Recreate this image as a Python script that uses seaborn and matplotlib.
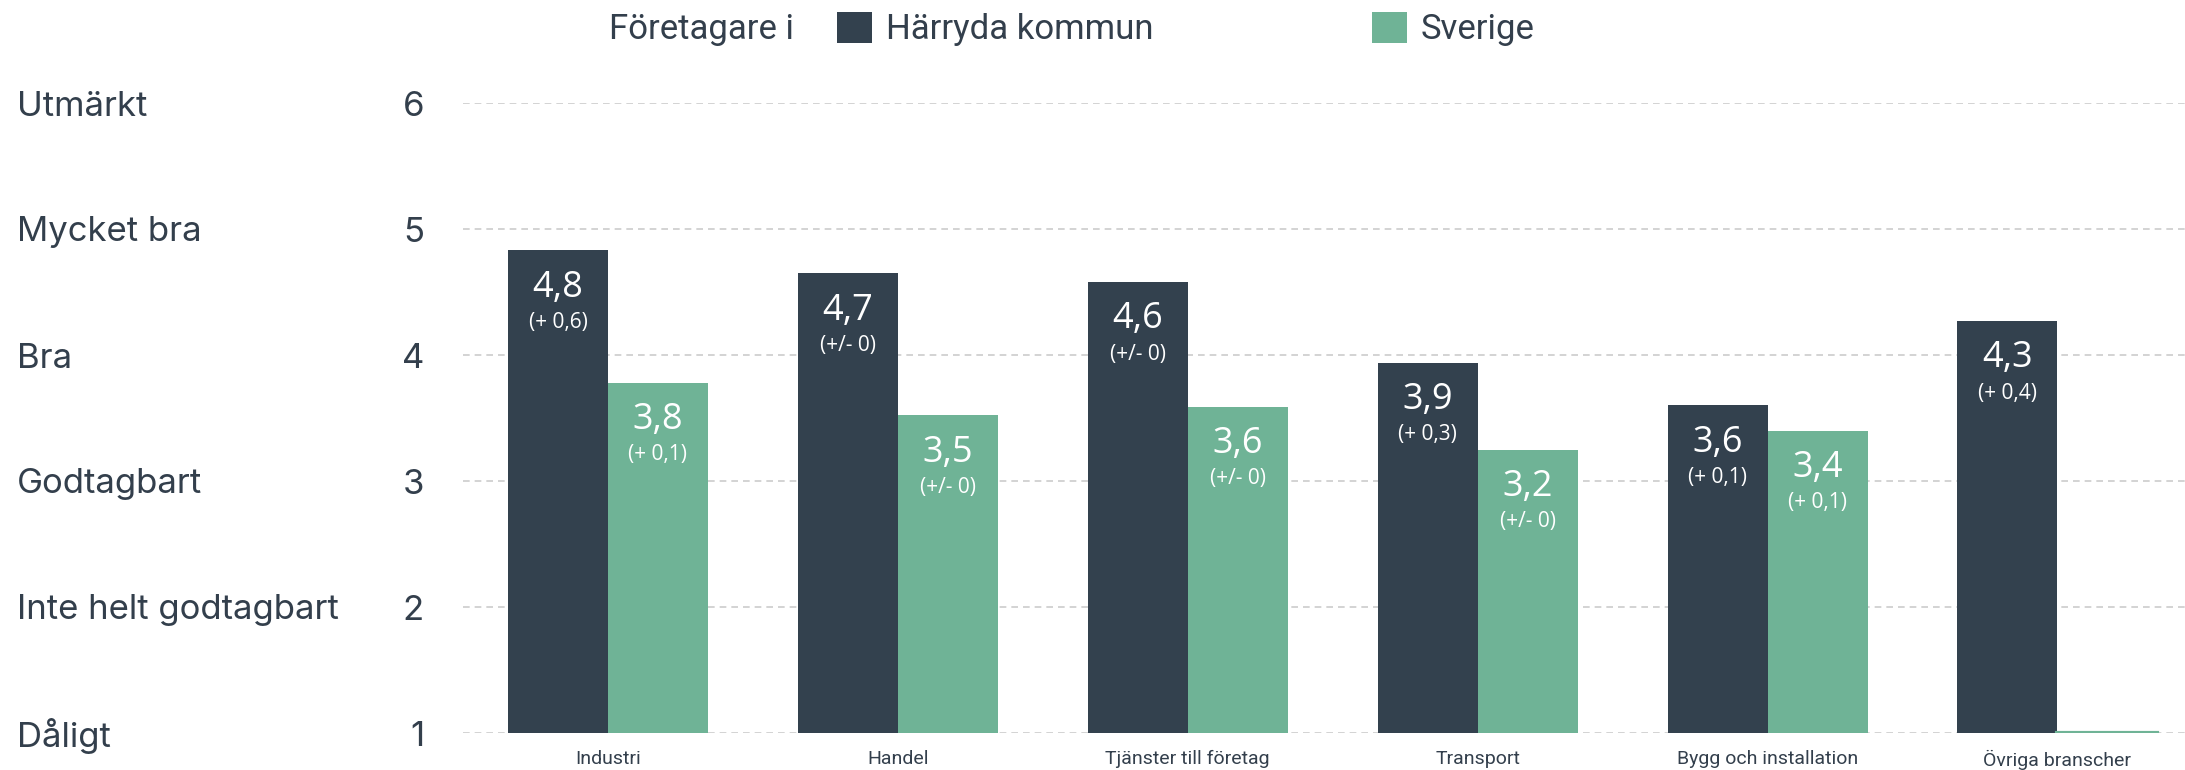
import matplotlib
matplotlib.use("Agg")
import matplotlib.pyplot as plt
import pandas as pd
import seaborn as sns

# data
branscher = ["Industri", "Handel", "Tjänster till företag", "Transport",
             "Bygg och installation", "Övriga branscher"]
harryda = [4.83, 4.65, 4.58, 3.94, 3.60, 4.27]
sverige = [3.78, 3.52, 3.59, 3.25, 3.40, 1.0]
harryda_txt = ["4,8", "4,7", "4,6", "3,9", "3,6", "4,3"]
sverige_txt = ["3,8", "3,5", "3,6", "3,2", "3,4", ""]
harryda_diff = ["(+ 0,6)", "(+/- 0)", "(+/- 0)", "(+ 0,3)", "(+ 0,1)", "(+ 0,4)"]
sverige_diff = ["(+ 0,1)", "(+/- 0)", "(+/- 0)", "(+/- 0)", "(+ 0,1)", ""]
skala = [1, 2, 3, 4, 5, 6]
skala_txt = ["Dåligt", "Inte helt godtagbart", "Godtagbart", "Bra",
             "Mycket bra", "Utmärkt"]
serier = ["Härryda kommun", "Sverige"]

DARK = "#33414E"
GREEN = "#6FB396"
TEXT = "#333F4C"

df = pd.DataFrame({
    "bransch": branscher * 2,
    "serie": [serier[0]] * 6 + [serier[1]] * 6,
    "varde": harryda + sverige,
})

sns.set_style("white")
plt.rcParams["font.family"] = ["Inter", "DejaVu Sans"]

fig = plt.figure(figsize=(21.85, 7.7), dpi=100)
ax = fig.add_axes([463 / 2185, 37 / 770, 1 - 463 / 2185, 630 / 770])

sns.barplot(data=df, x="bransch", y="varde", hue="serie", hue_order=serier,
            palette=[DARK, GREEN], width=0.69, ax=ax, linewidth=0,
            errorbar=None, saturation=1)

ax.set_ylim(1, 6)
ax.set_xlim(-0.5, 5.44)
ax.set_xlabel("")
ax.set_ylabel("")
sns.despine(ax=ax, left=True, bottom=True)
ax.set_axisbelow(True)
ax.yaxis.grid(True, linestyle=(0, (4, 3)), color="#cccccc", linewidth=1.2)

ax.set_yticks(skala)
ax.set_yticklabels([str(s) for s in skala], fontsize=25, color=TEXT)
ax.tick_params(axis="y", length=0, pad=28)
ax.tick_params(axis="x", length=0, pad=12)
for lab in ax.get_xticklabels():
    lab.set_fontsize(14)
    lab.set_color(TEXT)
    lab.set_family(["Roboto", "DejaVu Sans"])

# verbal scale on the far left
for s, t in zip(skala, skala_txt):
    ax.text((17 - 463) / (2185 - 463), s, t, transform=ax.get_yaxis_transform(),
            ha="left", va="center_baseline", fontsize=25, color=TEXT)

# labels inside the bars
texts = [(harryda_txt, harryda_diff), (sverige_txt, sverige_diff)]
for cont, (vals, diffs) in zip(ax.containers, texts):
    for bar, v, d in zip(cont.patches, vals, diffs):
        x = bar.get_x() + bar.get_width() / 2
        y = bar.get_height()
        if y <= 1.0:
            bar.set_edgecolor(GREEN)
            bar.set_linewidth(3)
        ax.annotate(v, (x, y), xytext=(0, -27), textcoords="offset points",
                    ha="center", va="center", color="white", fontsize=26,
                    family=["Open Sans", "DejaVu Sans"])
        ax.annotate(d, (x, y), xytext=(0, -52), textcoords="offset points",
                    ha="center", va="center", color="white", fontsize=15,
                    family=["Open Sans", "DejaVu Sans"])

# legend row at the top
handles, labels = ax.get_legend_handles_labels()
ax.get_legend().remove()
fig.text(609 / 2185, 1 - 29 / 770, "Företagare i", ha="left", va="center",
         fontsize=25, color=TEXT, family=["Roboto", "DejaVu Sans"])
leg = fig.legend(handles, labels, loc="center left", ncol=2, frameon=False,
                 bbox_to_anchor=(806 / 2185, 1 - 29 / 770),
                 prop={"family": ["Roboto", "DejaVu Sans"], "size": 25},
                 handlelength=1, handleheight=1, handletextpad=0.4,
                 columnspacing=6.3)
for t in leg.get_texts():
    t.set_color(TEXT)

fig.savefig("out.png", dpi=100)
